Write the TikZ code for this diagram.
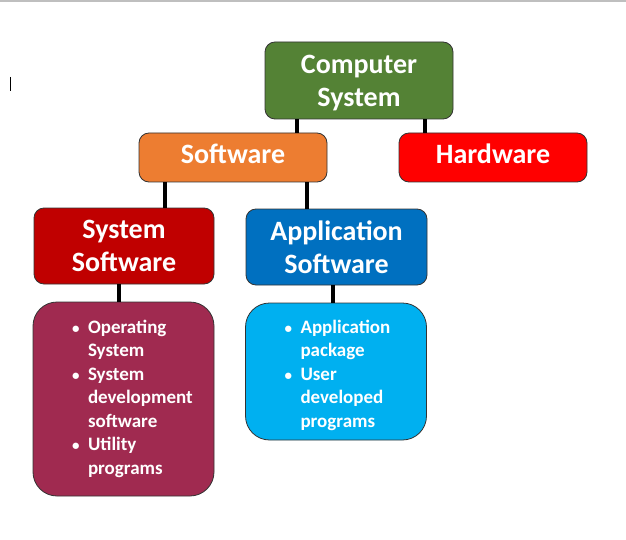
\documentclass[tikz,border=0pt]{standalone}
\usepackage{fontspec}
\setmainfont{Carlito}
\usetikzlibrary{positioning}
\definecolor{compgreen}{HTML}{548235}
\definecolor{softorange}{HTML}{ED7D31}
\definecolor{hardred}{HTML}{FF0000}
\definecolor{sysred}{HTML}{C00000}
\definecolor{appblue}{HTML}{0070C0}
\definecolor{syslistcol}{HTML}{A02A50}
\definecolor{applistcol}{HTML}{00B0F0}
\tikzstyle{box} = [rectangle, rounded corners=10pt, draw=black!80, line width=0.8pt, text=white, align=center, inner sep=0pt, text depth=0pt, font={\bfseries\fontsize{28}{33}\selectfont}]
\tikzstyle{onebox} = [box, text depth=7pt]
\tikzstyle{listbox} = [rectangle, rounded corners=24pt, draw=black!80, line width=0.8pt, text=white, inner xsep=37pt, inner ysep=0pt, text width=107pt, align=left, font={\bfseries\fontsize{19}{23.5}\selectfont}]
\tikzstyle{link} = [line width=3.5pt]
\newcommand{\bul}{\hspace{2pt}{\fontsize{15}{15}\selectfont\textbullet}}
\begin{document}
\begin{tikzpicture}[x=1pt,y=-1pt]
	\useasboundingbox (0,0) rectangle (626,540);
	\draw [black!25,line width=2pt] (0,1) -- (626,1);
	\draw [thin] (10,77) -- (10,91);
	% boxes
	\node [box,fill=compgreen,minimum width=188pt,minimum height=77pt] (comp) at (359,80.5) {Computer\\System};
	\node [onebox,fill=softorange,minimum width=188pt,minimum height=49pt] (soft) at (233,157.5) {Software};
	\node [onebox,fill=hardred,minimum width=188pt,minimum height=49pt] (hard) at (493,157.5) {Hardware};
	\node [box,fill=sysred,minimum width=180pt,minimum height=76pt] (sys) at (124,246) {System\\Software};
	\node [box,fill=appblue,minimum width=181pt,minimum height=76pt] (app) at (336.5,247) {Application\\Software};
	\node [listbox,fill=syslistcol,minimum width=181pt,minimum height=194pt] (syslist) at (123.5,399) {%
		\begin{tabular}{@{}p{18pt}@{}l@{}}
		\bul & Operating\\ & System\\
		\bul & System\\ & development\\ & software\\
		\bul & Utility\\ & programs
		\end{tabular}};
	\node [listbox,fill=applistcol,minimum width=180pt,minimum height=137pt] (applist) at (336,371.5) {%
		\raisebox{-4pt}[\height][\depth]{\begin{tabular}{@{}p{18pt}@{}l@{}}
		\bul & Application\\ & package\\
		\bul & User\\ & developed\\ & programs
		\end{tabular}}};
	% connectors
	\draw [link] ([xshift=-62pt]comp.south) -- ([xshift=-62pt]comp.south |- soft.north);
	\draw [link] ([xshift=66pt]comp.south) -- ([xshift=66pt]comp.south |- hard.north);
	\draw [link] ([xshift=-68pt]soft.south) -- ([xshift=-68pt]soft.south |- sys.north);
	\draw [link] ([xshift=74pt]soft.south) -- ([xshift=74pt]soft.south |- app.north);
	\draw [link] ([xshift=-5pt]sys.south) -- ([xshift=-5pt]sys.south |- syslist.north);
	\draw [link] ([xshift=-3.5pt]app.south) -- ([xshift=-3.5pt]app.south |- applist.north);
\end{tikzpicture}
\end{document}
